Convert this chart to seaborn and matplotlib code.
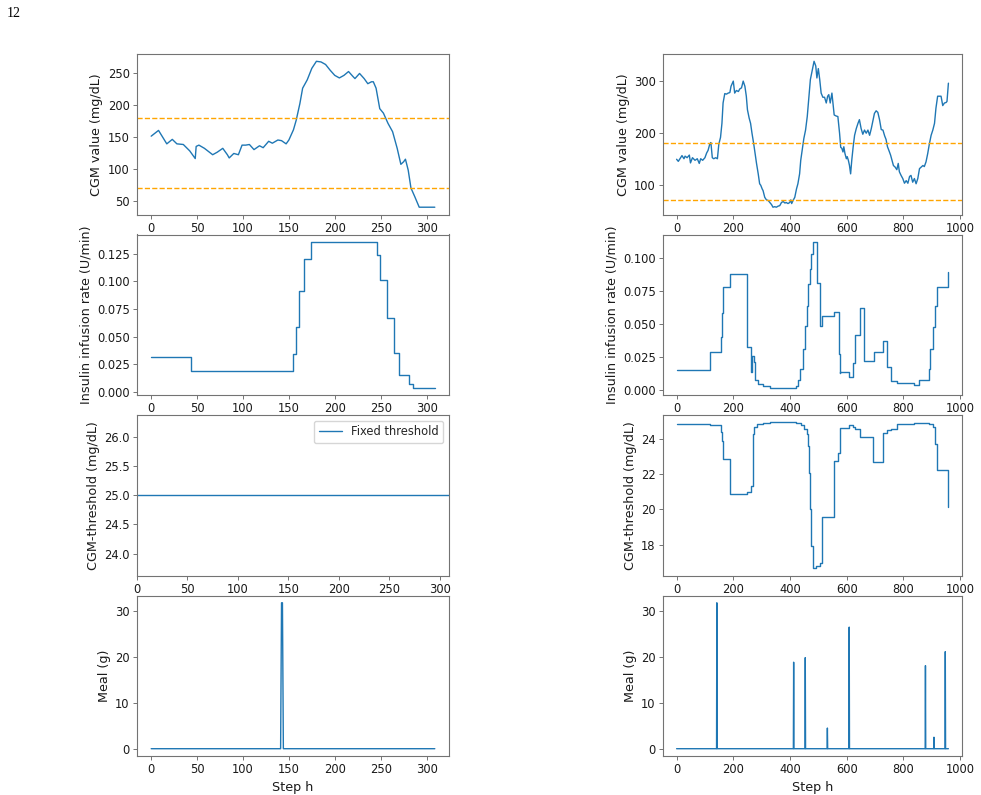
import numpy as np
import pandas as pd
import matplotlib
matplotlib.use("Agg")
import matplotlib.pyplot as plt
import seaborn as sns

# ---------------- data ----------------
# Left patient (fixed threshold), 310 steps
n_left = 310
cgm_left_steps = [0, 8, 17, 23, 28, 35, 42, 48, 49, 52,
                  58, 67, 72, 78, 83, 85, 90, 95, 99, 103,
                  107, 112, 118, 122, 128, 132, 138, 142, 147, 150,
                  155, 158, 162, 165, 170, 175, 180, 185, 190, 195,
                  200, 205, 210, 215, 220, 222, 227, 232, 236, 240,
                  242, 245, 249, 253, 258, 263, 268, 272, 275, 277,
                  280, 283, 287, 292, 300, 309]
cgm_left_vals = [151, 160, 139, 146, 139, 138, 128, 116, 135, 137,
                 132, 122, 126, 132, 122, 117, 124, 122, 137, 137,
                 138, 130, 136, 133, 143, 140, 145, 144, 139, 145,
                 161, 176, 202, 226, 239, 257, 268, 267, 263, 254,
                 246, 242, 246, 252, 244, 241, 249, 241, 233, 236,
                 236, 226, 194, 187, 171, 158, 132, 107, 111, 115,
                 98, 70, 57, 40, 40, 40]

ins_left_steps = [0, 43, 154, 158, 161, 166, 174, 246, 249, 257, 265, 270, 281, 285, 309]
ins_left_vals = [0.0316, 0.0190, 0.0343, 0.0587, 0.0910, 0.1199, 0.1358, 0.1238,
                 0.1009, 0.0672, 0.0352, 0.0150, 0.0075, 0.0037, 0.0037]

thr_left_value = 25.0

meal_left_steps = [142, 143]
meal_left_grams = [31.8, 31.8]

# Right patient (adaptive threshold), 960 steps
n_right = 960
cgm_right_steps = [0, 6, 14, 19, 26, 30, 37, 45, 49, 56,
                   65, 73, 80, 85, 92, 100, 106, 111, 117, 121,
                   126, 131, 138, 144, 149, 155, 160, 164, 170, 176,
                   182, 188, 192, 200, 205, 211, 218, 223, 229, 235,
                   241, 246, 250, 256, 261, 266, 272, 277, 282, 288,
                   293, 297, 302, 305, 311, 317, 323, 329, 335, 340,
                   346, 352, 358, 364, 370, 376, 382, 387, 393, 399,
                   403, 406, 411, 417, 423, 428, 434, 438, 444, 449,
                   455, 461, 467, 472, 479, 485, 491, 495, 500, 505,
                   510, 516, 522, 528, 533, 537, 542, 548, 552, 556,
                   563, 569, 575, 579, 583, 587, 590, 594, 599, 602,
                   606, 610, 614, 618, 623, 628, 634, 640, 645, 651,
                   657, 663, 669, 675, 681, 687, 692, 698, 704, 710,
                   716, 722, 728, 734, 739, 744, 749, 755, 760, 765,
                   771, 777, 782, 786, 792, 798, 804, 810, 816, 822,
                   827, 833, 839, 845, 851, 857, 863, 869, 874, 880,
                   886, 892, 898, 904, 910, 915, 921, 927, 933, 939,
                   945, 951, 954, 959]
cgm_right_vals = [149, 145, 152, 156, 150, 155, 152, 157, 142, 152,
                  147, 150, 141, 150, 147, 152, 161, 166, 178, 181,
                  152, 150, 152, 150, 178, 191, 218, 257, 275, 274,
                  276, 277, 289, 299, 276, 281, 279, 284, 286, 299,
                  289, 270, 244, 228, 218, 199, 179, 160, 141, 121,
                  102, 99, 92, 89, 76, 71, 70, 66, 62, 57,
                  58, 57, 59, 60, 66, 68, 65, 66, 64, 66,
                  71, 64, 70, 76, 92, 102, 121, 147, 170, 189,
                  205, 231, 270, 302, 321, 337, 328, 305, 323, 302,
                  276, 268, 268, 257, 270, 273, 257, 276, 254, 234,
                  232, 231, 199, 172, 170, 163, 173, 160, 150, 154,
                  147, 137, 121, 147, 173, 195, 208, 218, 225, 208,
                  197, 205, 199, 205, 195, 208, 221, 237, 242, 239,
                  225, 206, 205, 194, 187, 173, 166, 157, 147, 137,
                  134, 129, 141, 125, 118, 112, 103, 108, 103, 116,
                  118, 105, 112, 102, 112, 131, 134, 137, 135, 144,
                  160, 179, 195, 205, 218, 247, 270, 270, 270, 252,
                  257, 258, 260, 295]

ins_right_steps = [0, 117, 155, 160, 163, 190, 250, 261, 266, 272,
                   277, 286, 305, 329, 423, 430, 434, 446, 454, 460,
                   465, 469, 473, 481, 495, 507, 513, 555, 573, 575,
                   577, 608, 624, 629, 646, 660, 695, 728, 742, 757,
                   778, 836, 857, 890, 894, 904, 913, 918, 958, 959]
ins_right_vals = [0.0149, 0.0288, 0.0396, 0.0578, 0.0779, 0.0875, 0.0321, 0.0137, 0.0258, 0.0208,
                  0.0071, 0.0042, 0.0028, 0.0016, 0.0030, 0.0072, 0.0158, 0.0312, 0.0481, 0.0636,
                  0.0797, 0.0917, 0.1023, 0.1119, 0.0806, 0.0483, 0.0561, 0.0589, 0.0273, 0.0125,
                  0.0135, 0.0099, 0.0199, 0.0413, 0.0621, 0.0220, 0.0285, 0.0372, 0.0169, 0.0064,
                  0.0054, 0.0036, 0.0075, 0.0156, 0.0308, 0.0477, 0.0637, 0.0774, 0.0892, 0.0892]

thr_right_steps = [0, 117, 155, 160, 163, 190, 250, 261, 268, 272,
                   282, 305, 329, 423, 439, 451, 460, 465, 467, 469,
                   474, 481, 493, 507, 513, 555, 570, 575, 577, 608,
                   622, 629, 646, 692, 728, 742, 757, 778, 836, 892,
                   904, 910, 918, 958, 959]
thr_right_vals = [24.84, 24.79, 24.43, 23.90, 22.88, 20.87, 20.98, 21.34, 24.28, 24.71,
                  24.84, 24.92, 24.96, 24.93, 24.80, 24.60, 24.30, 23.62, 22.10, 20.00,
                  17.93, 16.65, 16.75, 16.95, 19.59, 22.74, 23.20, 23.72, 24.62, 24.80,
                  24.70, 24.55, 24.15, 22.70, 24.37, 24.50, 24.60, 24.84, 24.92, 24.84,
                  24.71, 23.72, 22.26, 20.12, 20.12]

meal_right_steps = [142, 413, 454, 532, 609, 878, 908, 948]
meal_right_grams = [31.8, 18.85, 19.85, 4.5, 26.5, 18.1, 2.5, 21.15]

hyper_limit = 180
hypo_limit = 70

# tick labels
xticks_left = [0, 50, 100, 150, 200, 250, 300]
xticks_right = [0, 200, 400, 600, 800, 1000]
yticks_cgm_left = [50, 100, 150, 200, 250]
yticks_cgm_right = [100, 200, 300]
yticks_ins_left = [0.000, 0.025, 0.050, 0.075, 0.100, 0.125]
yticks_ins_right = [0.000, 0.025, 0.050, 0.075, 0.100]
yticks_thr_left = [24.0, 24.5, 25.0, 25.5, 26.0]
yticks_thr_right = [18, 20, 22, 24]
yticks_meal = [0, 10, 20, 30]

# ---------------- style ----------------
sns.set_style("white")
plt.rcParams.update({
    "font.family": ["DejaVu Sans"],
    "axes.edgecolor": "0.45",
    "axes.linewidth": 0.8,
    "xtick.color": "0.45",
    "ytick.color": "0.45",
    "xtick.labelcolor": "0.1",
    "ytick.labelcolor": "0.1",
    "xtick.bottom": True,
    "ytick.left": True,
    "xtick.major.size": 2.7,
    "ytick.major.size": 2.7,
    "xtick.major.width": 0.7,
    "ytick.major.width": 0.7,
    "xtick.major.pad": 2.6,
    "ytick.major.pad": 2.6,
    "xtick.labelsize": 8.3,
    "ytick.labelsize": 8.3,
    "axes.labelsize": 9.2,
    "axes.labelpad": 3.0,
    "axes.labelcolor": "0.1",
})

LINE = "#1f77b4"
W, H = 981, 795
fig = plt.figure(figsize=(W / 100, H / 100), dpi=100)

col_left_px = [137, 663]
col_width_px = [312, 299]
row_top_px = [54, 234.5, 415, 595.5]
row_h_px = 160.5

axes = [[None, None] for _ in range(4)]
for r in range(4):
    for c in range(2):
        l = col_left_px[c] / W
        w = col_width_px[c] / W
        b = 1 - (row_top_px[r] + row_h_px) / H
        h = row_h_px / H
        axes[r][c] = fig.add_axes([l, b, w, h])


def meal_series(n, steps, grams):
    arr = np.zeros(n)
    arr[np.array(steps)] = grams
    return pd.DataFrame({"step": np.arange(n), "meal": arr})


panels = [
    dict(n=n_left, cgm=(cgm_left_steps, cgm_left_vals), ins=(ins_left_steps, ins_left_vals),
         meal=(meal_left_steps, meal_left_grams), xt=xticks_left,
         ycgm=yticks_cgm_left, yins=yticks_ins_left),
    dict(n=n_right, cgm=(cgm_right_steps, cgm_right_vals), ins=(ins_right_steps, ins_right_vals),
         meal=(meal_right_steps, meal_right_grams), xt=xticks_right,
         ycgm=yticks_cgm_right, yins=yticks_ins_right),
]

for c, p in enumerate(panels):
    # CGM
    ax = axes[0][c]
    df = pd.DataFrame({"step": p["cgm"][0], "cgm": p["cgm"][1]})
    sns.lineplot(data=df, x="step", y="cgm", ax=ax, color=LINE, lw=1.0,
                 estimator=None, errorbar=None)
    ax.axhline(hyper_limit, color="orange", ls="--", lw=1.0)
    ax.axhline(hypo_limit, color="orange", ls="--", lw=1.0)
    ax.set_ylabel("CGM value (mg/dL)")
    ax.set_xlabel("")
    ax.set_yticks(p["ycgm"])

    # insulin
    ax = axes[1][c]
    df = pd.DataFrame({"step": p["ins"][0], "rate": p["ins"][1]})
    sns.lineplot(data=df, x="step", y="rate", ax=ax, color=LINE, lw=1.0,
                 drawstyle="steps-post", estimator=None, errorbar=None)
    ax.set_ylabel("Insulin infusion rate (U/min)")
    ax.set_xlabel("")
    ax.set_yticks(p["yins"])
    ax.set_yticklabels([f"{v:.3f}" for v in p["yins"]])

    # meal
    ax = axes[3][c]
    df = meal_series(p["n"], *p["meal"])
    sns.lineplot(data=df, x="step", y="meal", ax=ax, color=LINE, lw=1.0,
                 estimator=None, errorbar=None)
    ax.set_ylabel("Meal (g)")
    ax.set_xlabel("Step h")
    ax.set_yticks(yticks_meal)

# threshold left (fixed)
ax = axes[2][0]
df = pd.DataFrame({"step": np.arange(n_left), "thr": np.full(n_left, thr_left_value)})
sns.lineplot(data=df, x="step", y="thr", ax=ax, color=LINE, lw=1.0,
             estimator=None, errorbar=None, label="Fixed threshold")
ax.legend(loc="upper right", fontsize=8.3, frameon=True)
ax.set_ylabel("CGM-threshold (mg/dL)")
ax.set_xlabel("")
ax.set_yticks(yticks_thr_left)
ax.set_ylim(23.625, 26.375)

# threshold right (adaptive)
ax = axes[2][1]
df = pd.DataFrame({"step": thr_right_steps, "thr": thr_right_vals})
sns.lineplot(data=df, x="step", y="thr", ax=ax, color=LINE, lw=1.0,
             drawstyle="steps-post", estimator=None, errorbar=None)
ax.set_ylabel("CGM-threshold (mg/dL)")
ax.set_xlabel("")
ax.set_yticks(yticks_thr_right)

for r in range(4):
    axes[r][0].set_xticks(xticks_left)
    axes[r][1].set_xticks(xticks_right)
axes[2][0].set_xlim(0, n_left - 1)
for r in (0, 1, 3):
    axes[r][0].set_xlim(-15.45, 324.45)
for r in range(4):
    axes[r][1].set_xlim(-47.95, 1006.95)

fig.text(7 / W, 1 - 7 / H, "12", family=["Liberation Serif", "DejaVu Serif"],
         fontsize=10, va="top", ha="left", color="black")

fig.savefig("out.png", dpi=100, facecolor="white")
